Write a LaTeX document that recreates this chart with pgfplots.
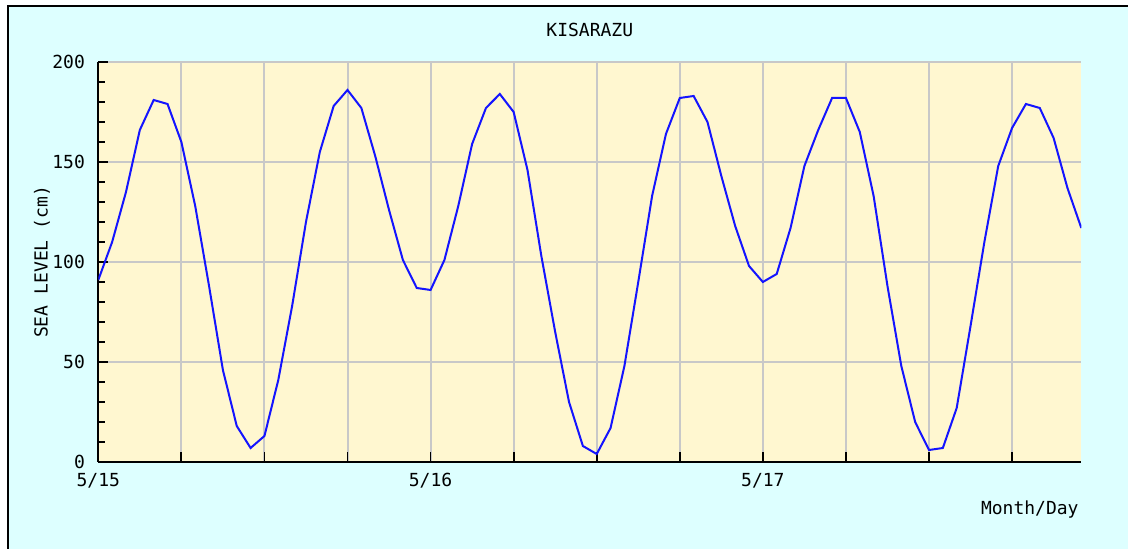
\documentclass[border=0pt]{standalone}
\usepackage{pgfplots}
\pgfplotsset{compat=1.18}
\usepackage{fontspec}
\setmainfont{DejaVu Sans Mono}
\setmonofont{DejaVu Sans Mono}
\definecolor{outerbg}{RGB}{221,255,255}
\definecolor{plotbg}{RGB}{255,247,208}
\definecolor{gridgray}{RGB}{200,200,200}
\definecolor{tideblue}{RGB}{20,20,255}
\newcommand{\chartfont}{\fontsize{9pt}{11pt}\selectfont}

\pgfplotstableread{
h lvl
0 91
1 110
2 135
3 166
4 181
5 179
6 160
7 128
8 88
9 46
10 18
11 7
12 13
13 41
14 78
15 120
16 155
17 178
18 186
19 177
20 153
21 126
22 101
23 87
24 86
25 101
26 128
27 159
28 177
29 184
30 175
31 146
32 103
33 65
34 30
35 8
36 4
37 17
38 48
39 90
40 133
41 164
42 182
43 183
44 170
45 143
46 118
47 98
48 90
49 94
50 117
51 148
52 166
53 182
54 182
55 165
56 133
57 88
58 48
59 20
60 6
61 7
62 27
63 68
64 110
65 148
66 167
67 179
68 177
69 162
70 137
71 117
}\tidedata

\begin{document}
\chartfont
\begin{tikzpicture}
\fill[white] (0pt,0pt) rectangle (564pt,274.5pt);
\fill[outerbg] (3.75pt,0pt) rectangle (564pt,271.25pt);
\draw[black, line width=1pt] (3.75pt,0pt) -- (3.75pt,271.25pt) -- (564pt,271.25pt);
\begin{axis}[
  at={(49.15pt,43.5pt)}, anchor=south west,
  width=491.5pt, height=200pt, scale only axis,
  xmin=0, xmax=71, ymin=0, ymax=200,
  axis lines*=left,
  axis line style={-, black, line width=1pt},
  x axis line style={-}, y axis line style={-},
  axis background/.style={fill=plotbg},
  grid=major,
  major grid style={gridgray, line width=1pt},
  xtick={0,6,...,66},
  xticklabels={5/15,,,,5/16,,,,5/17,,,},
  ytick={0,50,100,150,200},
  yticklabels={0,50,100,150,200},
  minor y tick num=4,
  tick align=inside,
  major tick length=5pt, minor tick length=3.5pt,
  tick style={black, line width=0.9pt},
  tick label style={font=\chartfont},
  xticklabel style={yshift=-2.5pt},
  yticklabel style={xshift=-3.5pt},
  every axis title shift=0pt,
  title={KISARAZU},
  title style={font=\chartfont, at={(axis description cs:0.5,1.08)}, anchor=center},
  ylabel={SEA LEVEL (cm)},
  ylabel style={font=\chartfont, at={(axis description cs:-0.0573,0.5)}, anchor=center},
  xlabel={Month/Day},
  xlabel style={font=\chartfont, at={(axis description cs:1.0037,-0.12)}, anchor=east},
]
\addplot[tideblue, line width=1pt, no marks] table[x=h, y=lvl] {\tidedata};
\end{axis}
\pgfresetboundingbox
\useasboundingbox (0pt,0pt) rectangle (564pt,274.5pt);
\end{tikzpicture}
\end{document}
